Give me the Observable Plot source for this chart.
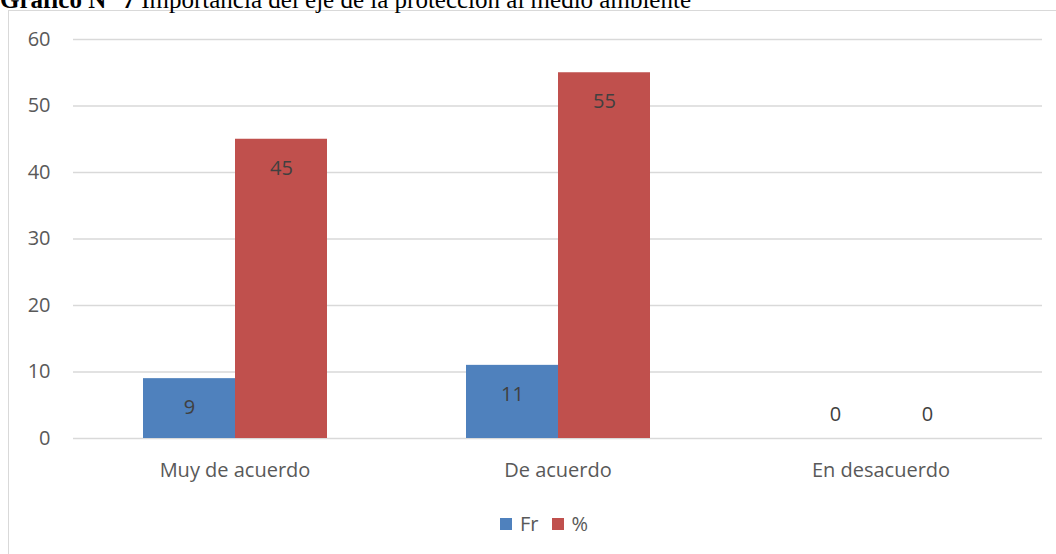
<!DOCTYPE html>
<html>
<head>
<meta charset="utf-8">
<script src="https://cdn.jsdelivr.net/npm/d3@7"></script>
<script src="https://cdn.jsdelivr.net/npm/@observablehq/plot@0.6"></script>
<style>
  html, body { margin: 0; padding: 0; background: #fff; overflow: hidden; }
  #wrap { position: relative; width: 1056px; height: 554px; overflow: hidden; }
  #title { position: absolute; left: 0; top: -13px; font-family: "Liberation Serif", serif; font-size: 25px; line-height: 25px; color: #000; white-space: nowrap; }
  #frame { position: absolute; left: 8px; top: 10px; width: 1060px; height: 560px; border: 1px solid #d9d9d9; box-sizing: border-box; }
  #chart { position: absolute; left: 0; top: 0; }
  #legend { position: absolute; top: 510px; left: 500px; display: flex; align-items: center; font-family: "Open Sans", sans-serif; font-size: 20px; line-height: 28px; color: #595959; }
  #legend .sw { width: 12px; height: 12px; display: inline-block; margin-right: 8px; }
  #legend .item { display: flex; align-items: center; margin-right: 13px; }
</style>
</head>
<body>
<div id="wrap">
  <div id="frame"></div>
  <div id="title"><b>Gráfico N° 7</b> Importancia del eje de la protección al medio ambiente</div>
  <div id="chart"></div>
  <div id="legend"></div>
</div>
<script>
const categories = ["Muy de acuerdo", "De acuerdo", "En desacuerdo"];
const series = ["Fr", "%"];
const frValues = [9, 11, 0];
const pctValues = [45, 55, 0];
const colors = ["#4F81BD", "#C0504D"];
const yTicks = [0, 10, 20, 30, 40, 50, 60];

const data = [];
categories.forEach((c, i) => {
  data.push({category: c, series: series[0], value: frValues[i]});
  data.push({category: c, series: series[1], value: pctValues[i]});
});

const plot = Plot.plot({
  width: 1056,
  height: 554,
  marginLeft: 72,
  marginRight: 14,
  marginTop: 39,
  marginBottom: 116,
  style: {fontFamily: "'Open Sans', sans-serif", fontSize: "20px", color: "#595959", background: "transparent", overflow: "visible"},
  fx: {domain: categories, padding: 0, axis: "bottom", tickSize: 0, tickPadding: 24, label: null},
  x: {domain: series, paddingInner: 0, paddingOuter: 0.75, axis: null},
  y: {domain: [0, 60], ticks: yTicks, tickSize: 0, tickPadding: 23, label: null, tickFormat: d => String(d)},
  color: {domain: series, range: colors},
  marks: [
    Plot.ruleY(yTicks, {stroke: "#d9d9d9", strokeWidth: 1.3}),
    Plot.barY(data, {fx: "category", x: "series", y: "value", fill: "series"}),
    Plot.text(data.filter(d => d.value > 0), {fx: "category", x: "series", y: "value", text: d => String(d.value), dy: 29, fill: "#404040", fontSize: 20}),
    Plot.text(data.filter(d => d.value === 0), {fx: "category", x: "series", y: "value", text: d => String(d.value), dy: -24, fill: "#404040", fontSize: 20})
  ]
});
document.getElementById("chart").appendChild(plot);

const legend = document.getElementById("legend");
series.forEach((s, i) => {
  const item = document.createElement("span");
  item.className = "item";
  const sw = document.createElement("span");
  sw.className = "sw";
  sw.style.background = colors[i];
  item.appendChild(sw);
  item.appendChild(document.createTextNode(s));
  legend.appendChild(item);
});
</script>
</body>
</html>
